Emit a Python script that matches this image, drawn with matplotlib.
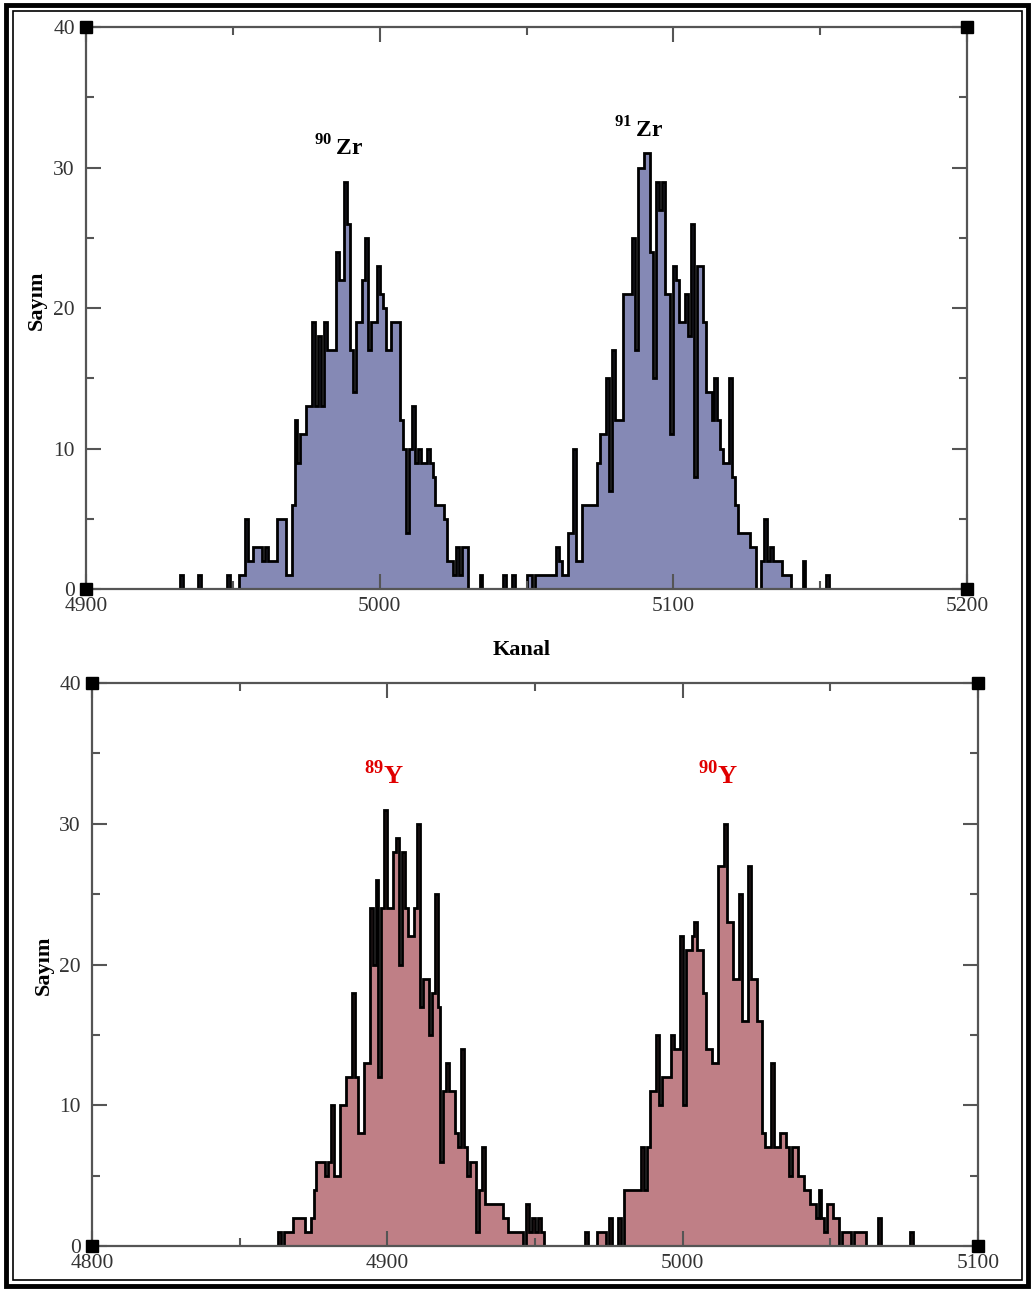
import numpy as np
import matplotlib
matplotlib.use("Agg")
import matplotlib.pyplot as plt
from matplotlib.patches import Rectangle
from matplotlib.ticker import MultipleLocator

plt.rcParams["font.family"] = ["Liberation Serif", "DejaVu Serif"]
plt.rcParams["mathtext.fontset"] = "custom"
plt.rcParams["mathtext.rm"] = "Liberation Serif"
plt.rcParams["mathtext.bf"] = "Liberation Serif:bold"

# DATA: counts per channel (one channel per bin)
zr_start = 4930
zr_counts = [
    0, 0, 1, 0, 0, 0, 0, 0, 1, 0,
    0, 0, 0, 0, 0, 0, 0, 0, 1, 0,
    0, 0, 1, 1, 5, 2, 2, 3, 3, 3,
    2, 3, 2, 2, 2, 5, 5, 5, 1, 1,
    6, 12, 9, 11, 11, 13, 13, 19, 13, 18,
    13, 19, 17, 17, 17, 24, 22, 22, 29, 26,
    17, 14, 19, 19, 22, 25, 17, 19, 19, 23,
    21, 20, 17, 17, 19, 19, 19, 12, 10, 4,
    10, 13, 9, 10, 9, 9, 10, 9, 8, 6,
    6, 6, 5, 2, 2, 1, 3, 1, 3, 3,
    0, 0, 0, 0, 1, 0, 0, 0, 0, 0,
    0, 0, 1, 0, 0, 1, 0, 0, 0, 0,
    1, 1, 0, 1, 1, 1, 1, 1, 1, 1,
    3, 2, 1, 1, 4, 4, 10, 2, 2, 6,
    6, 6, 6, 6, 9, 11, 11, 15, 7, 17,
    12, 12, 12, 21, 21, 21, 25, 17, 30, 30,
    31, 31, 24, 15, 29, 27, 29, 21, 21, 11,
    23, 22, 19, 19, 21, 18, 26, 8, 23, 23,
    19, 14, 14, 12, 15, 12, 10, 9, 9, 15,
    8, 6, 4, 4, 4, 4, 3, 3, 0, 0,
    2, 5, 2, 3, 2, 2, 2, 1, 1, 1,
    0, 0, 0, 0, 2, 0, 0, 0, 0, 0,
    0, 0, 1, 0, 0, 0,
]

y_start = 4860
y_counts = [
    0, 0, 0, 1, 0, 1, 1, 1, 2, 2,
    2, 2, 1, 1, 2, 4, 6, 6, 6, 5,
    6, 10, 5, 5, 10, 10, 12, 12, 18, 12,
    8, 8, 13, 13, 24, 20, 26, 12, 24, 31,
    24, 24, 28, 29, 20, 28, 24, 22, 22, 24,
    30, 17, 19, 19, 15, 18, 25, 17, 6, 11,
    13, 11, 11, 8, 7, 14, 7, 5, 6, 6,
    1, 4, 7, 3, 3, 3, 3, 3, 3, 2,
    2, 1, 1, 1, 1, 1, 0, 3, 1, 2,
    1, 2, 1, 0, 0, 0, 0, 0, 0, 0,
    0, 0, 0, 0, 0, 0, 0, 1, 0, 0,
    0, 1, 1, 1, 0, 2, 0, 0, 2, 0,
    4, 4, 4, 4, 4, 4, 7, 4, 7, 11,
    11, 15, 10, 12, 12, 12, 15, 14, 14, 22,
    10, 21, 21, 22, 23, 21, 21, 18, 14, 14,
    13, 13, 27, 27, 30, 23, 23, 19, 19, 25,
    16, 16, 27, 19, 19, 16, 16, 8, 7, 7,
    13, 7, 7, 8, 8, 7, 5, 7, 7, 5,
    5, 4, 4, 3, 3, 2, 4, 2, 1, 3,
    3, 2, 2, 0, 1, 1, 1, 0, 1, 1,
    1, 1, 0, 0, 0, 0, 2, 0, 0, 0,
    0, 0, 0, 0, 0, 0, 0, 1, 0, 0,
]

zr_range = (4900, 5200)
y_range = (4800, 5100)
zr_labels = [(r"$^{\mathbf{90}}\,\mathbf{Zr}$", 4986, 31.4), (r"$^{\mathbf{91}}\,\mathbf{Zr}$", 5088, 32.7)]
y_labels = [(r"$^{\mathbf{89}}\mathbf{Y}$", 4899, 33.5), (r"$^{\mathbf{90}}\mathbf{Y}$", 5012, 33.5)]

W, H = 1033, 1291
fig = plt.figure(figsize=(W / 100, H / 100), dpi=100)

SPINE = "#555555"
TXT = "#333333"


def panel(rect, xr, start, counts, fill, labels, lab_color, lab_size):
    ax = fig.add_axes(rect)
    edges = np.arange(xr[0], xr[1] + 1)
    vals = np.zeros(len(edges) - 1)
    i0 = start - xr[0]
    vals[i0:i0 + len(counts)] = counts
    ax.stairs(vals, edges, fill=True, color=fill, lw=0)
    ax.stairs(vals, edges, color="black", lw=2.0, baseline=None)
    ax.set_xlim(*xr)
    ax.set_ylim(0, 40)
    ax.xaxis.set_major_locator(MultipleLocator(100))
    ax.xaxis.set_minor_locator(MultipleLocator(50))
    ax.yaxis.set_major_locator(MultipleLocator(10))
    ax.yaxis.set_minor_locator(MultipleLocator(5))
    ax.tick_params(which="both", direction="in", top=True, right=True,
                   color=SPINE, width=1.5, labelsize=15.5, labelcolor=TXT)
    ax.tick_params(which="major", length=11)
    ax.tick_params(which="minor", length=6)
    ax.tick_params(axis="x", which="major", pad=6)
    ax.tick_params(axis="y", which="major", pad=8)
    for s in ax.spines.values():
        s.set_color(SPINE)
        s.set_linewidth(1.6)
    # corner squares
    ax.plot([xr[0], xr[1], xr[0], xr[1]], [0, 0, 40, 40], "s", color="black",
            ms=8, clip_on=False, zorder=5)
    for txt, x, y in labels:
        ax.text(x, y, txt, color=lab_color, fontsize=lab_size, ha="center", va="center")
    ax.set_ylabel("Sayım", fontsize=16, fontweight="bold")
    return ax


ax1 = panel([86 / W, 1 - 589 / H, 881 / W, 562 / H], zr_range, zr_start, zr_counts,
            "#8589b5", zr_labels, "black", 17)
ax1.yaxis.set_label_coords(-0.045, 0.514)
ax1.set_xlabel("Kanal", fontsize=16, fontweight="bold")
ax1.xaxis.set_label_coords(0.494, -0.091)

ax2 = panel([92 / W, 1 - 1246 / H, 886 / W, 563 / H], y_range, y_start, y_counts,
            "#bf7f86", y_labels, "#e00000", 19)
ax2.yaxis.set_label_coords(-0.043, 0.499)

# double frame around the figure
fig.add_artist(Rectangle((5.5 / W, 5 / H), 1 - 11 / W, 1 - 10 / H, transform=fig.transFigure,
                         fill=False, lw=3.5, edgecolor="black"))
fig.add_artist(Rectangle((12.5 / W, 11 / H), 1 - 24 / W, 1 - 22 / H, transform=fig.transFigure,
                         fill=False, lw=1.2, edgecolor="black"))

fig.savefig("out.png", dpi=100)
